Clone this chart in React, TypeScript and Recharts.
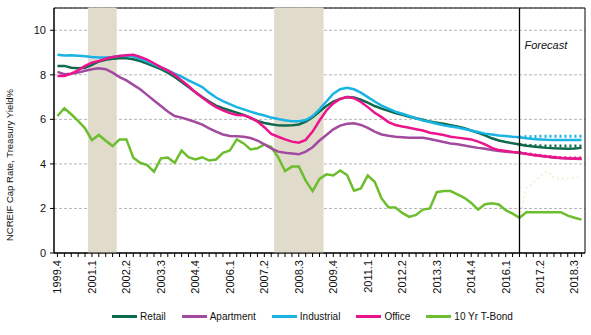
import React from "react";
import {
  ComposedChart,
  Line,
  Bar,
  CartesianGrid,
  XAxis,
  YAxis,
  Legend,
  ReferenceLine,
  ReferenceArea,
} from "recharts";

const quarters = [
  "1999.4",
  "2000.1", "2000.2", "2000.3", "2000.4",
  "2001.1", "2001.2", "2001.3", "2001.4",
  "2002.1", "2002.2", "2002.3", "2002.4",
  "2003.1", "2003.2", "2003.3", "2003.4",
  "2004.1", "2004.2", "2004.3", "2004.4",
  "2005.1", "2005.2", "2005.3", "2005.4",
  "2006.1", "2006.2", "2006.3", "2006.4",
  "2007.1", "2007.2", "2007.3", "2007.4",
  "2008.1", "2008.2", "2008.3", "2008.4",
  "2009.1", "2009.2", "2009.3", "2009.4",
  "2010.1", "2010.2", "2010.3", "2010.4",
  "2011.1", "2011.2", "2011.3", "2011.4",
  "2012.1", "2012.2", "2012.3", "2012.4",
  "2013.1", "2013.2", "2013.3", "2013.4",
  "2014.1", "2014.2", "2014.3", "2014.4",
  "2015.1", "2015.2", "2015.3", "2015.4",
  "2016.1", "2016.2", "2016.3", "2016.4",
  "2017.1", "2017.2", "2017.3", "2017.4",
  "2018.1", "2018.2", "2018.3", "2018.4",
];

const labelledQuarters = [
  "1999.4", "2001.1", "2002.2", "2003.3", "2004.4", "2006.1", "2007.2", "2008.3",
  "2009.4", "2011.1", "2012.2", "2013.3", "2014.4", "2016.1", "2017.2", "2018.3",
];

const recessionQuarters = [
  "2001.1", "2001.2", "2001.3", "2001.4",
  "2007.4", "2008.1", "2008.2", "2008.3", "2008.4", "2009.1", "2009.2",
];

const forecastStart = "2016.3";

const retail = [
  8.4, 8.4, 8.32, 8.3, 8.32, 8.45, 8.6, 8.68, 8.72, 8.74, 8.74, 8.7, 8.62, 8.5, 8.38, 8.26,
  8.1, 7.9, 7.68, 7.45, 7.22, 7.0, 6.8, 6.62, 6.5, 6.4, 6.3, 6.2, 6.07, 5.93, 5.84, 5.78,
  5.73, 5.72, 5.73, 5.77, 5.9, 6.1, 6.35, 6.6, 6.8, 6.92, 7.0, 6.98, 6.88, 6.75, 6.6, 6.48,
  6.38, 6.28, 6.2, 6.12, 6.05, 5.98, 5.9, 5.85, 5.8, 5.74, 5.68, 5.6, 5.5, 5.4, 5.28, 5.15,
  5.05, 4.98, 4.93, 4.87, 4.82, 4.78, 4.75, 4.72, 4.7, 4.69, 4.68, 4.69, 4.72,
];

const apartment = [
  8.13, 8.03, 8.05, 8.1, 8.18, 8.25, 8.29, 8.25, 8.1, 7.9, 7.75, 7.55, 7.35, 7.1, 6.85, 6.6,
  6.35, 6.15, 6.08, 5.98, 5.88, 5.76, 5.6, 5.45, 5.32, 5.25, 5.24, 5.22, 5.16, 5.05, 4.88, 4.7,
  4.55, 4.5, 4.47, 4.43, 4.55, 4.75, 5.05, 5.3, 5.55, 5.72, 5.8, 5.82, 5.75, 5.62, 5.45, 5.32,
  5.26, 5.22, 5.2, 5.18, 5.18, 5.17, 5.12, 5.05, 4.98, 4.92, 4.88, 4.83, 4.77, 4.72, 4.68, 4.62,
  4.58, 4.55, 4.52, 4.5, 4.45, 4.4, 4.36, 4.32, 4.28, 4.26, 4.24, 4.23, 4.22,
];

const industrial = [
  8.9, 8.87, 8.88, 8.86, 8.83, 8.8, 8.78, 8.78, 8.8, 8.84, 8.86, 8.82, 8.72, 8.6, 8.47, 8.33,
  8.2, 8.05, 7.92, 7.75, 7.6, 7.45, 7.2, 6.98, 6.82, 6.68, 6.55, 6.45, 6.35, 6.25, 6.17, 6.08,
  6.02, 5.96, 5.92, 5.92, 5.97, 6.15, 6.45, 6.8, 7.15, 7.35, 7.42, 7.35, 7.2, 7.0, 6.8, 6.62,
  6.48, 6.35, 6.25, 6.15, 6.05, 5.95, 5.88, 5.8, 5.73, 5.68, 5.63, 5.57, 5.5, 5.43, 5.36, 5.32,
  5.28, 5.25, 5.22, 5.2, 5.15, 5.12, 5.1, 5.08, 5.07, 5.07, 5.07, 5.07, 5.07,
];

const office = [
  7.95, 7.95, 8.05, 8.2, 8.4, 8.55, 8.62, 8.72, 8.8, 8.85, 8.88, 8.9, 8.8, 8.68, 8.52, 8.35,
  8.2, 8.0, 7.75, 7.5, 7.22, 6.98, 6.75, 6.55, 6.4, 6.28, 6.2, 6.18, 6.08, 5.9, 5.65, 5.35,
  5.22, 5.1, 5.0, 4.95, 5.08, 5.45, 5.95, 6.4, 6.72, 6.92, 7.0, 6.95, 6.78, 6.55, 6.3, 6.1,
  5.88, 5.75, 5.68, 5.62, 5.56, 5.5, 5.4, 5.35, 5.3, 5.22, 5.18, 5.14, 5.1, 5.0, 4.88, 4.72,
  4.62, 4.58, 4.54, 4.5, 4.45, 4.4, 4.37, 4.33, 4.3, 4.27, 4.25, 4.24, 4.23,
];

const tBond = [
  6.15, 6.5, 6.23, 5.93, 5.6, 5.07, 5.3, 5.04, 4.8, 5.1, 5.1, 4.28, 4.05, 3.95, 3.65, 4.25,
  4.29, 4.05, 4.6, 4.3, 4.2, 4.3, 4.15, 4.2, 4.5, 4.6, 5.1, 4.92, 4.65, 4.7, 4.88, 4.76,
  4.3, 3.68, 3.88, 3.88, 3.25, 2.78, 3.33, 3.53, 3.48, 3.7, 3.5, 2.8, 2.9, 3.48, 3.2, 2.45,
  2.05, 2.04, 1.8, 1.62, 1.71, 1.95, 2.0, 2.73, 2.78, 2.78, 2.63, 2.48, 2.25, 1.95, 2.19, 2.23,
  2.18, 1.92, 1.77, 1.58, 1.83, 1.83, 1.83, 1.83, 1.83, 1.83, 1.68, 1.58, 1.5,
];

// alternative forecast paths, 2016.3 onwards
const retailForecast = [4.87, 4.84, 4.82, 4.81, 4.8, 4.8, 4.8, 4.8, 4.8, 4.8];
const industrialForecast = [5.2, 5.22, 5.23, 5.24, 5.24, 5.24, 5.24, 5.24, 5.24, 5.24];
const officeForecast = [4.5, 4.46, 4.42, 4.38, 4.34, 4.31, 4.28, 4.27, 4.27, 4.27];
const tBondForecast = [1.58, 2.93, 3.15, 3.45, 3.68, 3.38, 3.33, 3.35, 3.38, 3.42];

const COLORS = {
  retail: "#0e6a4c",
  apartment: "#a24aa0",
  industrial: "#19b4e3",
  office: "#ec148c",
  tBond: "#6dbe2e",
  tBondForecast: "#f3f1d4",
  recession: "#e0dbcb",
};

const FONT = '"Liberation Sans", Arial, sans-serif';

const fStart = quarters.indexOf(forecastStart);
const pick = (arr: number[], i: number) =>
  i >= fStart && i - fStart < arr.length ? arr[i - fStart] : null;

const data = quarters.map((q, i) => ({
  q,
  retail: retail[i],
  apartment: apartment[i],
  industrial: industrial[i],
  office: office[i],
  tBond: tBond[i],
  retailF: pick(retailForecast, i),
  industrialF: pick(industrialForecast, i),
  officeF: pick(officeForecast, i),
  tBondF: pick(tBondForecast, i),
  recession: recessionQuarters.includes(q) ? 11 : null,
}));

const legendItems = [
  { name: "Retail", color: COLORS.retail },
  { name: "Apartment", color: COLORS.apartment },
  { name: "Industrial", color: COLORS.industrial },
  { name: "Office", color: COLORS.office },
  { name: "10 Yr T-Bond", color: COLORS.tBond },
];

const QuarterTick = (props: any) => {
  const { x, y, payload } = props;
  if (!labelledQuarters.includes(payload.value)) return null;
  return (
    <text
      x={x}
      y={y}
      transform={`rotate(-90 ${x} ${y})`}
      textAnchor="end"
      dy="0.35em"
      fontSize={11}
      fontFamily={FONT}
      fill="#111"
    >
      {payload.value}
    </text>
  );
};

const LegendBox = () => (
  <div
    style={{
      display: "flex",
      justifyContent: "center",
      gap: 16,
      fontFamily: FONT,
      fontSize: 10,
      color: "#111",
      paddingLeft: 40,
    }}
  >
    {legendItems.map((it) => (
      <div key={it.name} style={{ display: "flex", alignItems: "center" }}>
        <span
          style={{
            display: "inline-block",
            width: 25,
            height: 3,
            background: it.color,
            marginRight: 3,
          }}
        />
        {it.name}
      </div>
    ))}
  </div>
);

const YLabel = (props: any) => {
  const { viewBox } = props;
  const cx = viewBox.x + 10;
  const cy = 165;
  return (
    <text
      x={cx}
      y={cy}
      transform={`rotate(-90 ${cx} ${cy})`}
      textAnchor="middle"
      dy="0.35em"
      fontSize={9.5}
      fontFamily={FONT}
      fill="#111"
    >
      NCREIF Cap Rate, Treasury Yield%
    </text>
  );
};

const ForecastLabel = (props: any) => {
  const { viewBox } = props;
  return (
    <text
      x={viewBox.x + 5}
      y={viewBox.y + 41}
      fontSize={11}
      fontStyle="italic"
      fontFamily={FONT}
      fill="#111"
    >
      Forecast
    </text>
  );
};

export default function App() {
  return (
    <div style={{ width: 591, height: 335 }}>
      <style>{"body{margin:0}"}</style>
      <ComposedChart
        width={591}
        height={335}
        data={data}
        margin={{ top: 8, right: 6, bottom: 0, left: 0 }}
        barCategoryGap={0}
        barGap={0}
      >
        <CartesianGrid vertical={false} stroke="#b5b5b5" strokeDasharray="3 2" />
        <XAxis
          dataKey="q"
          interval={0}
          height={58}
          tick={<QuarterTick />}
          tickSize={4}
          tickMargin={3}
          stroke="#000"
        />
        <YAxis
          domain={[0, 11]}
          ticks={[0, 2, 4, 6, 8, 10]}
          width={54}
          tickSize={4}
          tickMargin={4}
          stroke="#000"
          tick={{ fontSize: 11, fontFamily: FONT, fill: "#111" }}
          label={<YLabel />}
        />
        <Bar
          dataKey="recession"
          fill={COLORS.recession}
          stroke={COLORS.recession}
          strokeWidth={1}
          isAnimationActive={false}
          legendType="none"
        />
        <Line dataKey="tBondF" stroke={COLORS.tBondForecast} strokeWidth={2} strokeDasharray="2 3" dot={false} isAnimationActive={false} legendType="none" />
        <Line dataKey="tBond" stroke={COLORS.tBond} strokeWidth={2.5} dot={false} isAnimationActive={false} />
        <Line dataKey="apartment" stroke={COLORS.apartment} strokeWidth={2.5} dot={false} isAnimationActive={false} />
        <Line dataKey="retail" stroke={COLORS.retail} strokeWidth={2.5} dot={false} isAnimationActive={false} />
        <Line dataKey="industrial" stroke={COLORS.industrial} strokeWidth={2.5} dot={false} isAnimationActive={false} />
        <Line dataKey="office" stroke={COLORS.office} strokeWidth={2.5} dot={false} isAnimationActive={false} />
        <Line dataKey="retailF" stroke={COLORS.retail} strokeWidth={3} strokeDasharray="2 3" dot={false} isAnimationActive={false} legendType="none" />
        <Line dataKey="industrialF" stroke={COLORS.industrial} strokeWidth={3} strokeDasharray="2 3" dot={false} isAnimationActive={false} legendType="none" />
        <Line dataKey="officeF" stroke={COLORS.office} strokeWidth={3} strokeDasharray="2 3" dot={false} isAnimationActive={false} legendType="none" />
        <ReferenceLine x={forecastStart} stroke="#000" strokeWidth={1.3} label={<ForecastLabel />} />
        <ReferenceArea y1={0} y2={11} fill="none" stroke="#000" strokeWidth={1} fillOpacity={0} />
        <Legend verticalAlign="bottom" height={24} content={<LegendBox />} />
      </ComposedChart>
    </div>
  );
}
